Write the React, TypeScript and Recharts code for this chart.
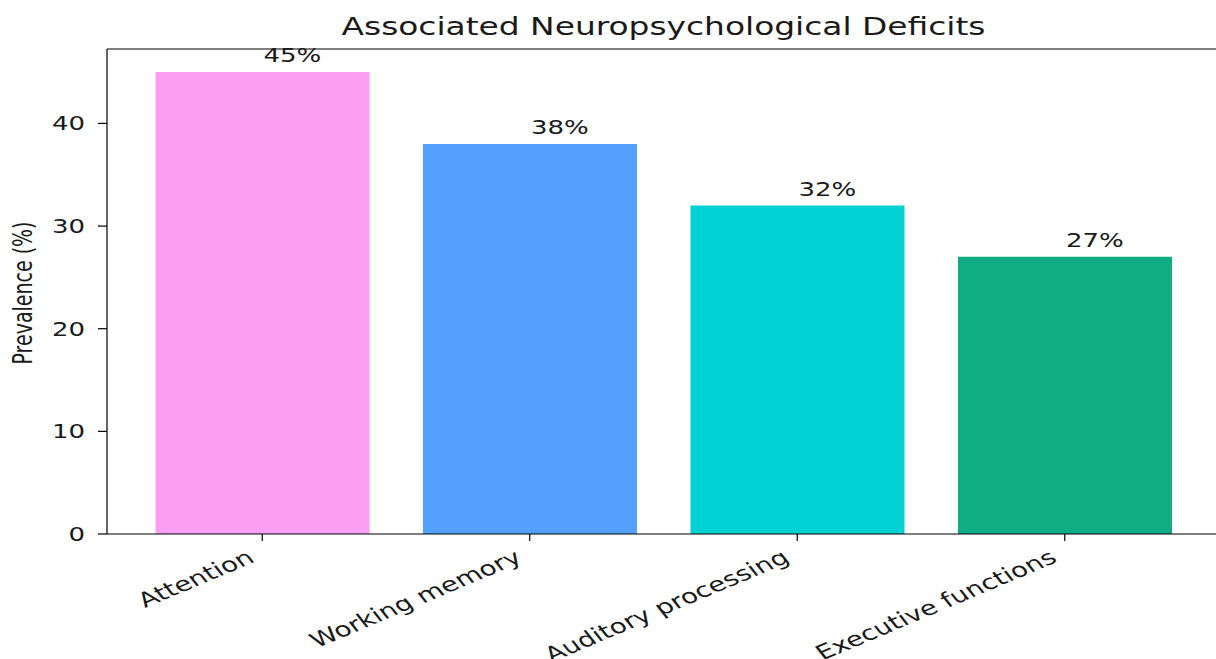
import React from 'react';
import { BarChart, Bar, XAxis, YAxis, Cell, LabelList, ReferenceLine } from 'recharts';

const categories = ['Attention', 'Working memory', 'Auditory processing', 'Executive functions'];
const prevalence = [45, 38, 32, 27];
const barColors = ['#FF9FF3', '#54A0FF', '#00D2D3', '#10AC84'];
const yTicks = [0, 10, 20, 30, 40];
const yMax = 47.25;
const title = 'Associated Neuropsychological Deficits';
const yLabel = 'Prevalence (%)';

const data = categories.map((c, i) => ({ category: c, value: prevalence[i] }));

const SX = 1.37;
const FONT = '"DejaVu Sans", sans-serif';
const TEXT = '#1a1a1a';

const YTick = (p: any) => (
  <text
    transform={`translate(${p.x},${p.y}) scale(${SX},1)`}
    x={0}
    y={0}
    dy={7}
    textAnchor="end"
    fontSize={19}
    fontFamily={FONT}
    fill={TEXT}
  >
    {p.payload.value}
  </text>
);

const XTick = (p: any) => (
  <g transform={`translate(${p.x - 3},${p.y - 1}) scale(${SX},1) translate(-2.4,16.3) rotate(-30)`}>
    <text x={0} y={0} textAnchor="end" fontSize={20.3} fontFamily={FONT} fill={TEXT}>
      {p.payload.value}
    </text>
  </g>
);

const ValueLabel = (p: any) => {
  const cx = Number(p.x) + Number(p.width) / 2 + 1;
  const cy = Number(p.y) - 10;
  return (
    <text
      transform={`translate(${cx},${cy}) scale(${SX},1)`}
      x={0}
      y={0}
      textAnchor="start"
      fontSize={19}
      fontFamily={FONT}
      fill={TEXT}
    >
      {`${p.value}%`}
    </text>
  );
};

export default function App() {
  return (
    <div style={{ position: 'absolute', left: 0, top: 0, width: 1216, height: 659, overflow: 'hidden', background: '#fff' }}>
      <BarChart
        width={1232}
        height={659}
        data={data}
        margin={{ top: 49, right: 8, bottom: 0, left: 0 }}
      >
        <XAxis
          dataKey="category"
          height={125}
          padding={{ left: 21.5, right: 25.5 }}
          axisLine={{ stroke: '#000', strokeWidth: 1.2 }}
          tickLine={{ stroke: '#000', strokeWidth: 1.2 }}
          tickSize={7}
          tickMargin={5}
          tick={XTick}
          interval={0}
        />
        <YAxis
          width={107}
          domain={[0, yMax]}
          ticks={yTicks}
          allowDataOverflow
          axisLine={{ stroke: '#000', strokeWidth: 1.2 }}
          tickLine={{ stroke: '#000', strokeWidth: 1.2 }}
          tickSize={9}
          tickMargin={13}
          tick={YTick}
        />
        <ReferenceLine y={yMax} stroke="#000" strokeWidth={1.2} ifOverflow="extend" />
        <Bar dataKey="value" barSize={214} isAnimationActive={false}>
          {data.map((d, i) => (
            <Cell key={d.category} fill={barColors[i]} />
          ))}
          <LabelList dataKey="value" content={ValueLabel} />
        </Bar>
      </BarChart>
      <svg
        width={1216}
        height={659}
        style={{ position: 'absolute', left: 0, top: 0, pointerEvents: 'none' }}
      >
        <text
          transform={`translate(663.5,35) scale(${SX},1)`}
          x={0}
          y={0}
          textAnchor="middle"
          fontSize={24}
          fontFamily={FONT}
          fill={TEXT}
        >
          {title}
        </text>
        <text
          transform={`translate(23.5,293) scale(${SX},1) rotate(-90)`}
          x={0}
          y={0}
          dy="0.31em"
          textAnchor="middle"
          fontSize={19}
          fontFamily={FONT}
          fill={TEXT}
        >
          {yLabel}
        </text>
      </svg>
    </div>
  );
}
